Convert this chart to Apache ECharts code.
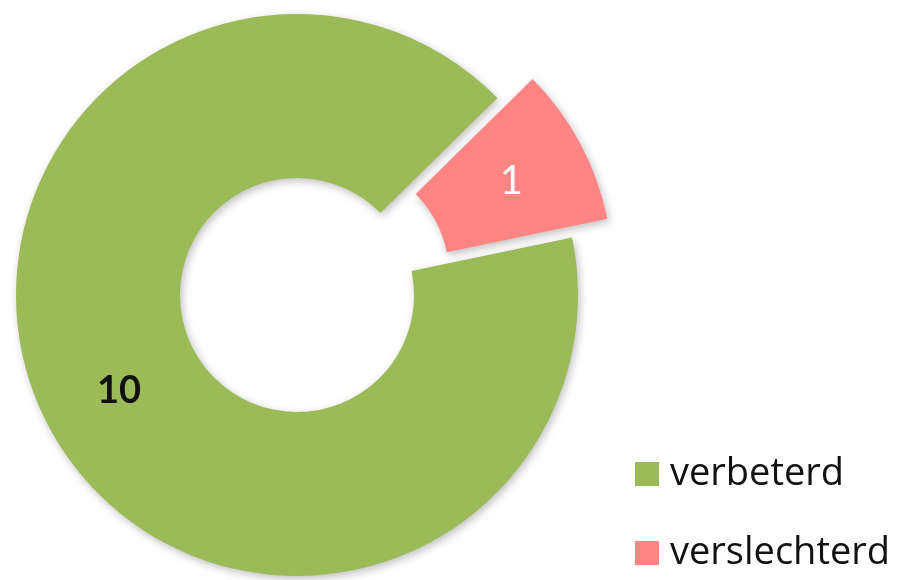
<!DOCTYPE html>
<html>
<head>
<meta charset="utf-8">
<script src="https://cdn.jsdelivr.net/npm/echarts@6/dist/echarts.min.js"></script>
<style>
  html, body { margin: 0; padding: 0; background: #fff; }
  #chart { width: 906px; height: 580px; }
</style>
</head>
<body>
<div id="chart"></div>
<script>
// data
const categories = ['verbeterd', 'verslechterd']
const values = [10, 1]
const colors = ['#9BBB59', '#FF8484']

const myChart = echarts.init(document.getElementById('chart'))

const option = {
  animation: false,
  legend: {
    orient: 'vertical',
    left: 635,
    top: 453,
    height: 200,
    padding: 0,
    itemWidth: 24,
    itemHeight: 24,
    itemGap: 37,
    icon: 'rect',
    textStyle: {
      fontFamily: 'Open Sans',
      fontSize: 38,
      lineHeight: 42,
      color: '#111',
      padding: [0, 0, 0, 6]
    },
    data: categories
  },
  series: [
    {
      type: 'pie',
      center: [297, 295],
      radius: [117, 281],
      startAngle: 11.8,
      clockwise: true,
      selectedMode: 'single',
      selectedOffset: 40,
      emphasis: { disabled: true },
      itemStyle: {
        shadowBlur: 8,
        shadowColor: 'rgba(0, 0, 0, 0.25)',
        shadowOffsetX: 2,
        shadowOffsetY: 3
      },
      label: {
        show: true,
        position: 'inside',
        formatter: '{c}',
        fontFamily: 'Lato'
      },
      labelLine: { show: false },
      data: categories.map((name, i) => ({
        name: name,
        value: values[i],
        selected: i === 1,
        itemStyle: { color: colors[i] },
        select: { itemStyle: { color: colors[i] } },
        label: i === 0
          ? { color: '#111', fontSize: 38, fontWeight: 'bold' }
          : { color: '#fff', fontSize: 40, fontWeight: 'normal', padding: [28, 0, 0, 2] }
      }))
    }
  ]
}

myChart.setOption(option)
</script>
</body>
</html>
